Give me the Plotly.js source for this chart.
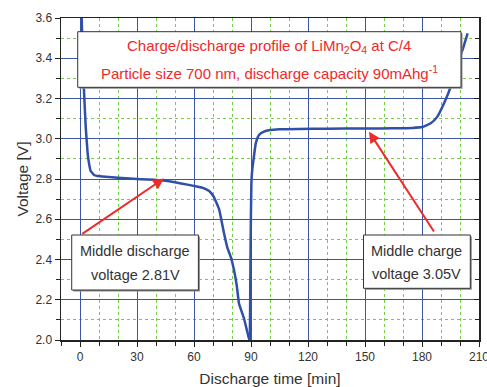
<!DOCTYPE html>
<html>
<head>
<meta charset="utf-8">
<script src="https://cdn.plot.ly/plotly-3.0.1.min.js"></script>
<style>html,body{margin:0;padding:0;background:#fff}#chart{width:487px;height:387px}</style>
</head>
<body>
<div id="chart"></div>
<script>
// ---- data ----
const dischargeTime = [0.8, 1.5, 2.0, 3.0, 4.0, 4.7, 5.6, 7.4, 9.2, 13.5, 20, 28, 36, 44, 50, 56.5, 62, 65, 68, 70.5, 73.2, 75.8, 77.5, 79.3, 81, 82.5, 83.7, 86.3, 88.9, 89.4];
const dischargeV    = [3.62, 3.40, 3.26, 3.06, 2.93, 2.88, 2.84, 2.82, 2.815, 2.811, 2.806, 2.801, 2.797, 2.792, 2.784, 2.772, 2.762, 2.755, 2.74, 2.71, 2.65, 2.53, 2.46, 2.414, 2.35, 2.27, 2.18, 2.108, 2.008, 2.0];
const chargeTime = [89.4, 89.8, 90.2, 90.7, 91.3, 92.5, 94.2, 96.8, 100, 105, 115, 130, 150, 165, 175, 180, 184.6, 188.1, 191.6, 195.1, 197.7, 201.3, 204];
const chargeV    = [2.0, 2.48, 2.78, 2.85, 2.894, 2.977, 3.019, 3.035, 3.043, 3.047, 3.049, 3.05, 3.051, 3.052, 3.054, 3.058, 3.077, 3.11, 3.176, 3.259, 3.358, 3.441, 3.524];
const xTicks = [0, 30, 60, 90, 120, 150, 180, 210];
const yTicks = [2.0, 2.2, 2.4, 2.6, 2.8, 3.0, 3.2, 3.4, 3.6];
const titleLine1 = 'Charge/discharge profile of LiMn<sub>2</sub>O<sub>4</sub> at C/4';
const titleLine2 = 'Particle size 700 nm, discharge capacity 90mAhg<sup>-1</sup>';
const dischargeNote = ['Middle discharge', 'voltage 2.81V'];
const chargeNote = ['Middle charge', 'voltage 3.05V'];
const dischargeMid = {t: 44.2, v: 2.803};
const chargeMid = {t: 152.1, v: 3.035};

// ---- styling / layout ----
const W = 487, H = 387;
const M = {l: 61, r: 8.3, t: 18, b: 47};
const PW = W - M.l - M.r, PH = H - M.t - M.b;
const px = x => (x - M.l) / PW;
const py = y => (H - M.b - y) / PH;
const RED = '#ee2a2a', BLUE = '#2f4fa8', GRIDBLUE = '#3b56a6', GREEN = '#74cc4a', TXT = '#333333';
const FONT = 'Liberation Sans, Arial, Helvetica, sans-serif';

function box(x0, y0, x1, y1) {
  return [
    {type: 'rect', xref: 'paper', yref: 'paper', layer: 'above',
     x0: px(x0 + 1.5), x1: px(x1 + 1.5), y0: py(y0 + 1.5), y1: py(y1 + 1.5),
     line: {width: 0}, fillcolor: '#8a8a8a'},
    {type: 'rect', xref: 'paper', yref: 'paper', layer: 'above',
     x0: px(x0), x1: px(x1), y0: py(y0), y1: py(y1),
     line: {width: 1, color: '#333'}, fillcolor: '#ffffff'}
  ];
}
function label(text, x, y, color, size) {
  return {xref: 'paper', yref: 'paper', x: px(x), y: py(y), xanchor: 'center', yanchor: 'middle',
          text: text, showarrow: false, font: {family: FONT, size: size, color: color}};
}
function arrow(head, tail) {
  return {x: head.t, y: head.v, xref: 'x', yref: 'y', axref: 'x', ayref: 'y', ax: tail.t, ay: tail.v,
          text: '', showarrow: true, arrowhead: 2, arrowsize: 1.1, arrowwidth: 2, arrowcolor: RED, standoff: 0};
}

const traces = [
  {x: dischargeTime, y: dischargeV, type: 'scatter', mode: 'lines', line: {color: BLUE, width: 2.5, shape: 'spline', smoothing: 0.3}, hoverinfo: 'skip'},
  {x: chargeTime, y: chargeV, type: 'scatter', mode: 'lines', line: {color: BLUE, width: 2.5, shape: 'spline', smoothing: 0.4}, hoverinfo: 'skip'}
];

const axisFont = {family: FONT, size: 12, color: TXT};
const layout = {
  width: W, height: H, margin: M, showlegend: false,
  paper_bgcolor: '#fff', plot_bgcolor: '#fff',
  font: {family: FONT, color: TXT},
  xaxis: {
    range: [-10, 210], tickmode: 'array', tickvals: xTicks, ticktext: xTicks.map(String),
    ticks: 'outside', ticklen: 5, tickwidth: 1, tickcolor: '#222', ticklabeloverflow: 'allow',
    showline: true, linecolor: '#222', linewidth: 1.5, mirror: true,
    showgrid: true, gridcolor: GRIDBLUE, gridwidth: 1, zeroline: false,
    tickfont: axisFont,
    minor: {dtick: 10, tick0: 0, ticks: 'outside', ticklen: 4, tickcolor: '#222', showgrid: true, gridcolor: GREEN, griddash: 'dot', gridwidth: 1},
    title: {text: 'Discharge time [min]', font: {family: FONT, size: 15.5, color: TXT}, standoff: 12}
  },
  yaxis: {
    range: [2.0, 3.6], tickmode: 'array', tickvals: yTicks, ticktext: yTicks.map(v => v.toFixed(1)),
    ticks: 'outside', ticklen: 5, tickwidth: 1, tickcolor: '#222', ticklabeloverflow: 'allow',
    showline: true, linecolor: '#222', linewidth: 1.5, mirror: true,
    showgrid: true, gridcolor: GRIDBLUE, gridwidth: 1, zeroline: false,
    tickfont: axisFont,
    minor: {dtick: 0.1, tick0: 2.0, ticks: 'outside', ticklen: 4, tickcolor: '#222', showgrid: true, gridcolor: GREEN, griddash: 'dot', gridwidth: 1},
    title: {text: 'Voltage [V]', font: {family: FONT, size: 15.5, color: TXT}, standoff: 3}
  },
  yaxis2: {
    overlaying: 'y', side: 'right', anchor: 'x', range: [2.0, 3.6], tickmode: 'array', tickvals: yTicks,
    showticklabels: false, ticks: 'inside', ticklen: 5, tickcolor: '#222', showgrid: false, zeroline: false, showline: false,
    minor: {dtick: 0.1, tick0: 2.0, ticks: 'inside', ticklen: 4, tickcolor: '#222', showgrid: false}
  },
  shapes: [].concat(
    box(77.7, 31.7, 460.7, 87.3),
    box(71.7, 235, 198.3, 290),
    box(363.3, 235, 470, 288.3)
  ),
  annotations: [
    arrow(dischargeMid, {t: 0.4, v: 2.522}),
    arrow(chargeMid, {t: 186.8, v: 2.532}),
    label(titleLine1, 269, 46, RED, 15),
    label(titleLine2, 269, 72, RED, 15),
    label(dischargeNote[0], 135, 251.5, TXT, 14.5),
    label(dischargeNote[1], 135, 275, TXT, 14.5),
    label(chargeNote[0], 416.7, 251.5, TXT, 14.5),
    label(chargeNote[1], 416.7, 274, TXT, 14.5)
  ]
};
traces.push({x: [], y: [], yaxis: 'y2', type: 'scatter', mode: 'lines', hoverinfo: 'skip', showlegend: false});

Plotly.newPlot('chart', traces, layout, {staticPlot: true, displayModeBar: false});
</script>
</body>
</html>
